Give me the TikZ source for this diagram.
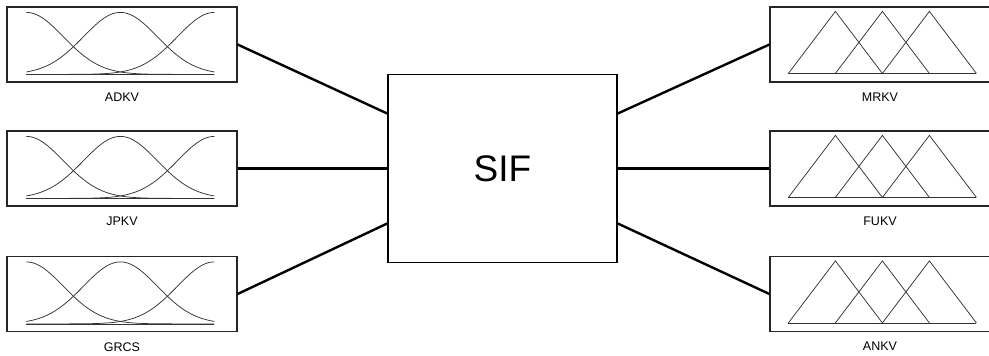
\documentclass[tikz,border=0pt]{standalone}
\usepackage{fontspec}
\setmainfont{Liberation Sans}
\usetikzlibrary{positioning}

% gaussian sets drawn inside an input box
\newcommand{\gaussset}[1]{%
\begin{scope}[shift={(#1.north west)},mfline]
\draw[domain=20:208,samples=90] plot (\x,{68-62*exp(-(((\x-20)/37)^2)/2)});
\draw[domain=20:208,samples=90] plot (\x,{68-62*exp(-(((\x-114)/37)^2)/2)});
\draw[domain=20:208,samples=90] plot (\x,{68-62*exp(-(((\x-208)/37)^2)/2)});
\draw (20,68)--(208,68);
\end{scope}}
% triangular sets drawn inside an output box
\newcommand{\triset}[1]{%
\begin{scope}[shift={(#1.north west)},mfline]
\draw (19,67)--(66,5)--(113,67);
\draw (66,67)--(113,5)--(160,67);
\draw (113,67)--(160,5)--(207,67);
\draw (19,67)--(207,67);
\end{scope}}

\begin{document}
\begin{tikzpicture}
[x=1pt,y=-1pt,
mfbox/.style={draw=black!85,line width=1.2pt,minimum width=230pt,minimum height=75pt,inner sep=0pt},
outbox/.style={mfbox,minimum width=240pt},
mflabel/.style 2 args={label={[font=\fontsize{12.5}{14}\selectfont,inner sep=0pt,label distance=10pt,xshift=#2]below:#1}},
mfline/.style={draw=black!80,line width=0.75pt},
engine/.style={draw,line width=1.6pt,minimum width=229pt,minimum height=188pt,font=\fontsize{37}{40}\selectfont},
link/.style={line width=2.4pt},]

\useasboundingbox (0,0) rectangle (989,356);
\clip (0,0) rectangle (989,356);

\node (sif) at (502.5,168.5)[engine]{SIF};

%inputs
\node (adkv) at (122,44.5)[mfbox,mflabel={ADKV}{0pt}]{};
\node (jpkv) at (122,168.5)[mfbox,mflabel={JPKV}{0pt}]{};
\node (grcs) at (122,294)[mfbox,mflabel={GRCS}{0pt}]{};
%outputs (open to the right)
\node (mrkv) at (890,44.5)[outbox,mflabel={MRKV}{-10pt}]{};
\node (fukv) at (890,168.5)[outbox,mflabel={FUKV}{-10pt}]{};
\node (ankv) at (890,294)[outbox,mflabel={ANKV}{-10pt}]{};

\gaussset{adkv}
\gaussset{jpkv}
\gaussset{grcs}
\triset{mrkv}
\triset{fukv}
\triset{ankv}

\draw[link] (adkv.east)--([yshift=55pt]sif.west);
\draw[link] (jpkv.east)--(sif.west);
\draw[link] (grcs.east)--([yshift=-55pt]sif.west);
\draw[link] ([yshift=55pt]sif.east)--(mrkv.west);
\draw[link] (sif.east)--(fukv.west);
\draw[link] ([yshift=-55pt]sif.east)--(ankv.west);

\end{tikzpicture}
\end{document}
